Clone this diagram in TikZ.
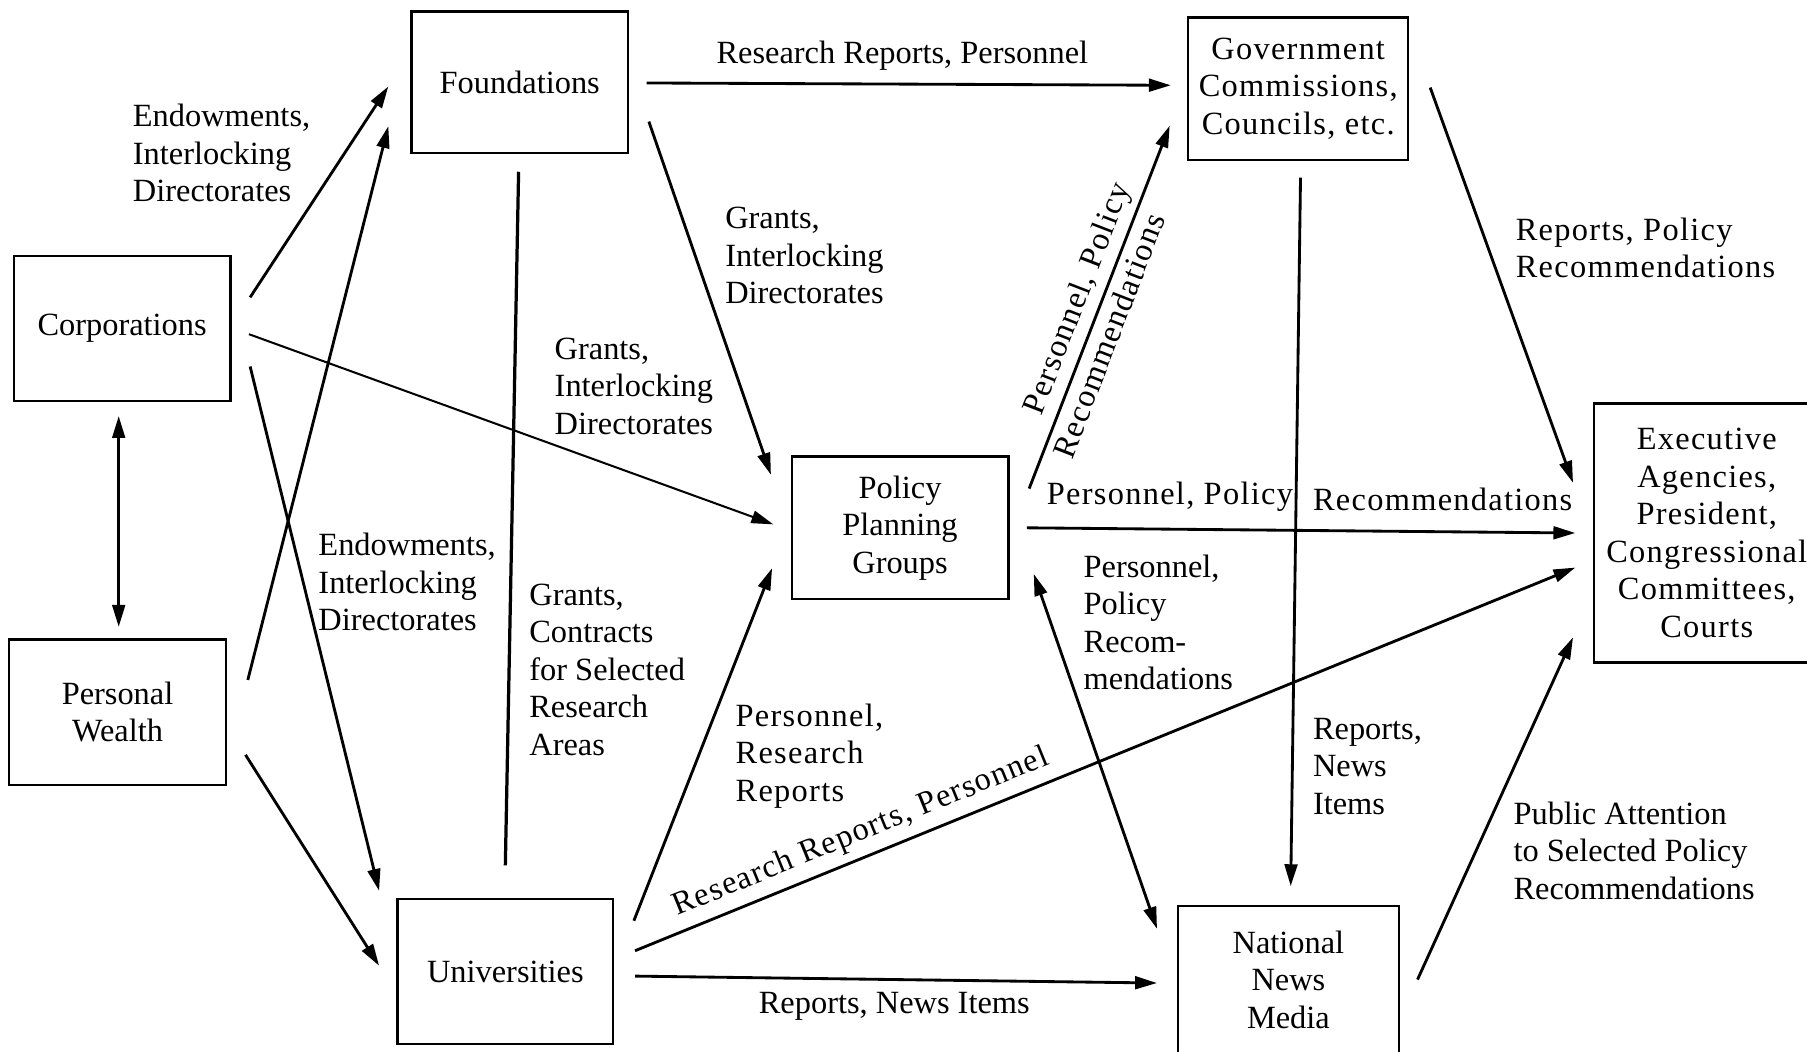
\documentclass[tikz,border=0pt]{standalone}
\usepackage{fontspec}
\setmainfont{Liberation Serif}
\usetikzlibrary{arrows.meta}

\begin{document}
\begin{tikzpicture}[x=0.02cm, y=-0.02cm,
  >={Triangle[length=3.8mm, width=2.2mm]},
  box/.style={draw, line width=1.2pt, align=center, inner sep=0pt, font=\fontsize{16}{18.5}\selectfont},
  lbl/.style={align=left, inner sep=0pt, font=\fontsize{16}{18.5}\selectfont},
  wide/.style={inner sep=0pt, font=\fontsize{16}{18.5}\selectfont\addfontfeature{LetterSpace=4}},
  arr/.style={line width=1.4pt, ->}]

  \useasboundingbox (0,0) rectangle (1568,912);

  % boxes
  \node[box, minimum width=3.76cm, minimum height=2.46cm] (fnd) at (451,71.5) {Foundations};
  \node[box, wide, align=center, draw, minimum width=3.82cm, minimum height=2.48cm] (gov) at (1126.5,77) {Government\\Commissions,\\Councils, etc.};
  \node[box, minimum width=3.76cm, minimum height=2.52cm] (corp) at (106,285) {Corporations};
  \node[box, minimum width=3.76cm, minimum height=2.52cm] (pw) at (102,618) {Personal\\Wealth};
  \node[box, minimum width=3.76cm, minimum height=2.48cm] (ppg) at (781,458) {Policy\\Planning\\Groups};
  \node[box, wide, align=center, draw, minimum width=3.92cm, minimum height=4.5cm] (exe) at (1481,462.5) {Executive\\Agencies,\\President,\\Congressional\\Committees,\\Courts};
  \node[box, minimum width=3.74cm, minimum height=2.52cm] (uni) at (438.5,843) {Universities};
  \node[box, minimum width=3.84cm, minimum height=2.56cm] (news) at (1118,850) {National\\News\\Media};

  % labels
  \node[lbl, anchor=west] (endow1) at (115,133) {Endowments,\\Interlocking\\Directorates};
  \node[lbl, anchor=west] (endow2) at (276,505) {Endowments,\\Interlocking\\Directorates};
  \node[lbl, anchor=west] (grants1) at (481,335) {Grants,\\Interlocking\\Directorates};
  \node[lbl, anchor=west] (grants2) at (629,222) {Grants,\\Interlocking\\Directorates};
  \node[lbl, anchor=west] (grants3) at (459,581) {Grants,\\Contracts\\for Selected\\Research\\Areas};
  \node[lbl] (rrp) at (783,48) {Research Reports, Personnel};
  \node[wide, align=left, anchor=west] (prr) at (638,656) {Personnel,\\Research\\Reports};
  \node[wide, anchor=west] (pp) at (908,431) {Personnel, Policy};
  \node[wide, anchor=west] (rec) at (1139,433) {Recommendations};
  \node[lbl, anchor=west] (pprm) at (940,540) {Personnel,\\Policy\\Recom-\\mendations};
  \node[lbl, anchor=west] (rni) at (1139,665) {Reports,\\News\\Items};
  \node[wide, align=left, anchor=west] (rpr) at (1315,215) {Reports, Policy\\Recommendations};
  \node[lbl] (rni2) at (776,873) {Reports, News Items};
  \node[lbl, anchor=west] (pub) at (1313,738) {Public Attention\\to Selected Policy\\Recommendations};

  % arrows
  \draw[arr] ([shift={(16,-27)}]corp.east) -- ([shift={(-19,3.5)}]fnd.west);
  \draw[arr] ([shift={(18,-28)}]pw.east) -- ([shift={(-19,38)}]fnd.west);
  \draw[arr] ([shift={(16,33)}]corp.east) -- ([shift={(-15,-70)}]uni.west);
  \draw[arr] ([shift={(16,37)}]pw.east) -- ([shift={(-15,-5)}]uni.west);
  \draw[line width=1.4pt, <->] ([shift={(-3,12)}]corp.south) -- ([shift={(1,-10)}]pw.north);
  \draw[line width=1pt, ->] ([shift={(15,5)}]corp.east) -- ([shift={(-15,-3)}]ppg.west);
  \draw[line width=1.6pt] ([shift={(-1,15)}]fnd.south) -- ([shift={(0,-28)}]uni.north);
  \draw[arr] ([shift={(15,0.5)}]fnd.east) -- ([shift={(-14,-3)}]gov.west);
  \draw[arr] ([shift={(17,34)}]fnd.east) -- ([shift={(-17,17)}]ppg.north west);
  \draw[arr] ([shift={(17,20)}]uni.north east) -- ([shift={(-16,-28)}]ppg.south west);
  \draw[arr] ([shift={(17,29)}]ppg.north east)
    -- node[wide, sloped, above=3pt, pos=0.5] {Personnel, Policy}
       node[wide, sloped, below=3pt, pos=0.44] {Recommendations}
    ([shift={(-15,-31)}]gov.south west);
  \draw[arr] ([shift={(15,0)}]ppg.east) -- ([shift={(-15,0)}]exe.west);
  \draw[line width=1.4pt, <->] ([shift={(21,-23)}]ppg.south east) -- ([shift={(-17,21)}]news.north west);
  \draw[arr] ([shift={(2,14)}]gov.south) -- ([shift={(2,-16)}]news.north);
  \draw[arr] ([shift={(18,-1)}]gov.east) -- ([shift={(-17,70)}]exe.north west);
  \draw[arr] ([shift={(18,-18)}]uni.east) -- node[wide, sloped, above=4pt, pos=0.25] {Research Reports, Personnel} ([shift={(-15,30)}]exe.west);
  \draw[arr] ([shift={(18,4)}]uni.east) -- ([shift={(-17,3)}]news.west);
  \draw[arr] ([shift={(15,0)}]news.east) -- ([shift={(-17,-23)}]exe.south west);

\end{tikzpicture}
\end{document}
